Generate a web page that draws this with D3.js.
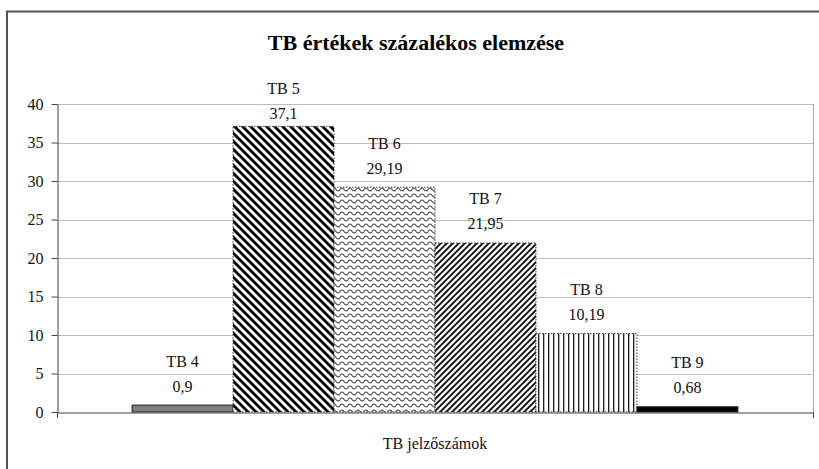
<!DOCTYPE html>
<html>
<head>
<meta charset="utf-8">
<script src="https://cdn.jsdelivr.net/npm/d3@7"></script>
<style>
  body { margin: 0; background: #fff; }
  svg text { font-family: "Liberation Serif", "DejaVu Serif", serif; }
  .tick text { font-size: 16px; fill: #111; }
  .lbl { font-size: 16px; fill: #111; text-anchor: middle; }
</style>
</head>
<body>
<svg></svg>
<script>
var categories = ['TB jelzőszámok'];
var series = ['TB 4', 'TB 5', 'TB 6', 'TB 7', 'TB 8', 'TB 9'];
var values = [0.9, 37.1, 29.19, 21.95, 10.19, 0.68];
var valueLabels = ['0,9', '37,1', '29,19', '21,95', '10,19', '0,68'];
var yTicks = [0, 5, 10, 15, 20, 25, 30, 35, 40];

var width = 819,
    height = 469,
    svg = d3.select("svg")
    .attr('width', width)
    .attr('height', height);

var margin = {left: 57, right: 6, top: 104, bottom: 57};

var x = d3.scaleBand()
    .domain(categories)
    .range([margin.left, width - margin.right])
    .paddingInner(0)
    .paddingOuter(0.124);

var xs = d3.scaleBand()
    .domain(series)
    .range([0, x.bandwidth()]);

var y = d3.scaleLinear()
    .domain([0, 40])
    .range([height - margin.bottom, margin.top]);

// fill patterns
var defs = svg.append('defs');

var p5 = defs.append('pattern').attr('id', 'p5')
    .attr('patternUnits', 'userSpaceOnUse').attr('width', 8).attr('height', 8);
p5.append('rect').attr('width', 8).attr('height', 8).attr('fill', '#fff');
p5.append('path').attr('d', 'M-1,-1 L9,9 M-3,5 L3,11 M5,-3 L11,3')
    .attr('stroke', '#000').attr('stroke-width', 2.8);

var p6 = defs.append('pattern').attr('id', 'p6')
    .attr('patternUnits', 'userSpaceOnUse').attr('width', 8).attr('height', 6);
p6.append('rect').attr('width', 8).attr('height', 6).attr('fill', '#fff');
p6.append('path').attr('d', 'M0,3.5 Q2,0.5 4,3.5 T8,3.5')
    .attr('fill', 'none').attr('stroke', '#333').attr('stroke-width', 1.1);

var p7 = defs.append('pattern').attr('id', 'p7')
    .attr('patternUnits', 'userSpaceOnUse').attr('width', 6).attr('height', 6);
p7.append('rect').attr('width', 6).attr('height', 6).attr('fill', '#fff');
p7.append('path').attr('d', 'M-1,7 L7,-1 M-3,3 L3,-3 M3,9 L9,3')
    .attr('stroke', '#000').attr('stroke-width', 1.8);

var p8 = defs.append('pattern').attr('id', 'p8')
    .attr('patternUnits', 'userSpaceOnUse').attr('width', 5).attr('height', 10);
p8.append('rect').attr('width', 5).attr('height', 10).attr('fill', '#fff');
p8.append('rect').attr('x', 1).attr('width', 1.2).attr('height', 10).attr('fill', '#000');

var fills = ['#808080', 'url(#p5)', 'url(#p6)', 'url(#p7)', 'url(#p8)', '#000'];

// outer chart frame
svg.append('rect')
    .attr('x', 7).attr('y', 11.5)
    .attr('width', 900).attr('height', 600)
    .attr('fill', 'none').attr('stroke', '#555').attr('stroke-width', 2);

// title
svg.append('text')
    .attr('x', 416).attr('y', 50)
    .attr('text-anchor', 'middle')
    .style('font-size', '22px').style('font-weight', 'bold')
    .text('TB értékek százalékos elemzése');

// gridlines
svg.append('g').selectAll('line')
    .data(yTicks.slice(1))
    .enter().append('line')
    .attr('x1', margin.left).attr('x2', width - margin.right)
    .attr('y1', function (d) { return Math.round(y(d)) + 0.5; })
    .attr('y2', function (d) { return Math.round(y(d)) + 0.5; })
    .attr('stroke', '#bdbdbd');

// right plot border
svg.append('line')
    .attr('x1', width - margin.right + 0.5).attr('x2', width - margin.right + 0.5)
    .attr('y1', y(40)).attr('y2', y(0))
    .attr('stroke', '#aaa');

// bars
var g = svg.append('g').attr('transform', 'translate(' + x(categories[0]) + ',0)');

g.selectAll('.bar')
    .data(values)
    .enter().append('rect')
    .attr('class', 'bar')
    .attr('x', function (d, i) { return xs(series[i]); })
    .attr('width', xs.bandwidth())
    .attr('y', function (d) { return y(d); })
    .attr('height', function (d) { return y(0) - y(d); })
    .attr('fill', function (d, i) { return fills[i]; })
    .attr('stroke', function (d, i) { return (i == 0 || i == 5) ? '#222' : '#333'; })
    .attr('stroke-width', 1)
    .attr('stroke-dasharray', function (d, i) { return (i == 0 || i == 5) ? null : '1.5,1.5'; });

// data labels (two lines: series name, value)
function valCenter(d) {
    return Math.max(y(d) - 19, y(40) + 9);
}
g.selectAll('.name')
    .data(values)
    .enter().append('text')
    .attr('class', 'lbl')
    .attr('x', function (d, i) { return xs(series[i]) + xs.bandwidth() / 2; })
    .attr('y', function (d) { return valCenter(d) - 25 + 5.5; })
    .text(function (d, i) { return series[i]; });

g.selectAll('.val')
    .data(values)
    .enter().append('text')
    .attr('class', 'lbl')
    .attr('x', function (d, i) { return xs(series[i]) + xs.bandwidth() / 2; })
    .attr('y', function (d) { return valCenter(d) + 5.5; })
    .text(function (d, i) { return valueLabels[i]; });

// axes
var yAxis = d3.axisLeft(y).tickValues(yTicks).tickSize(6).tickPadding(8).tickSizeOuter(0);
svg.append('g')
    .attr('class', 'axis axis-y')
    .attr('transform', 'translate(' + (margin.left + 0.5) + ',0)')
    .call(yAxis)
    .call(function (s) {
        s.attr('font-family', null);
        s.select('.domain').attr('stroke', '#444');
        s.selectAll('.tick line').attr('stroke', '#444');
    });

var xAxis = d3.axisBottom(x).tickSize(0).tickFormat('');
svg.append('g')
    .attr('class', 'axis axis-x')
    .attr('transform', 'translate(0,' + (y(0) + 0.5) + ')')
    .call(xAxis)
    .call(function (s) {
        s.select('.domain').attr('stroke', '#444');
        s.selectAll('.tick').remove();
    });

// category boundary ticks
svg.append('g').selectAll('line')
    .data([margin.left, width - margin.right])
    .enter().append('line')
    .attr('x1', function (d) { return d + 0.5; }).attr('x2', function (d) { return d + 0.5; })
    .attr('y1', y(0)).attr('y2', y(0) + 6)
    .attr('stroke', '#444');

// category label
svg.append('text')
    .attr('class', 'lbl')
    .attr('x', x(categories[0]) + x.bandwidth() / 2)
    .attr('y', 449)
    .text(categories[0]);
</script>
</body>
</html>
